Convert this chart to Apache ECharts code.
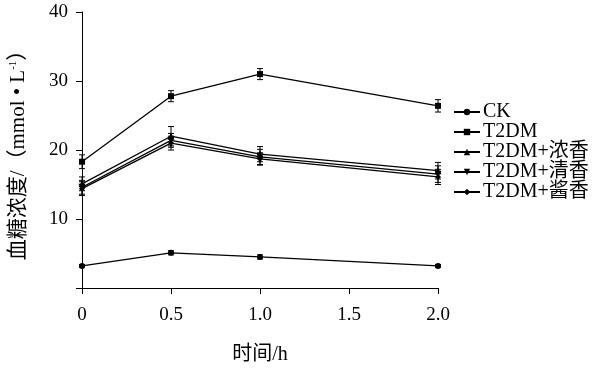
<!DOCTYPE html>
<html><head><meta charset="utf-8">
<script src="https://cdn.jsdelivr.net/npm/echarts@6/dist/echarts.min.js"></script>
<style>html,body{margin:0;padding:0;background:#fff}#c{width:601px;height:368px}</style>
</head><body><div id="c"></div>
<script>
const times = [0, 0.5, 1.0, 2.0];
const xTicks = ['0', '0.5', '1.0', '1.5', '2.0'];
const seriesNames = ['CK', 'T2DM', 'T2DM+浓香', 'T2DM+清香', 'T2DM+酱香'];
const ck = [3.2, 5.1, 4.5, 3.2];
const t2dm = [18.3, 27.8, 31.0, 26.4];
const nong = [15.1, 22.0, 19.4, 17.0];
const qing = [14.6, 21.4, 19.0, 16.5];
const jiang = [14.4, 21.0, 18.7, 16.1];
const ckErr = [0.2, 0.3, 0.3, 0.2];
const t2dmErr = [1.0, 0.8, 0.8, 0.9];
const nongErr = [1.0, 1.4, 1.1, 1.2];
const qingErr = [1.0, 1.0, 1.1, 1.2];
const jiangErr = [1.0, 1.0, 0.9, 1.1];

const values = [ck, t2dm, nong, qing, jiang];
const errs = [ckErr, t2dmErr, nongErr, qingErr, jiangErr];
const symbols = ['circle', 'rect', 'triangle', 'path://M0,0 L10,0 L5,9 Z', 'diamond'];
const sizes = [6, 6, 7, 7, 6];
const font = '"Liberation Serif", "Noto Sans CJK SC", serif';

const chart = echarts.init(document.getElementById('c'));
const series = [];
values.forEach((v, i) => {
  series.push({
    name: seriesNames[i], type: 'line',
    data: times.map((t, j) => [t, v[j]]),
    symbol: symbols[i], symbolSize: sizes[i], showSymbol: true,
    lineStyle: {color: '#000', width: 1.3},
    itemStyle: {color: '#000'},
    z: 3
  });
  series.push({
    type: 'custom', name: seriesNames[i] + '_err',
    data: times.map((t, j) => [t, v[j] - errs[i][j], v[j] + errs[i][j]]),
    renderItem: function (params, api) {
      const lo = api.coord([api.value(0), api.value(1)]);
      const hi = api.coord([api.value(0), api.value(2)]);
      const w = 3;
      const st = {stroke: '#000', lineWidth: 1};
      return {type: 'group', children: [
        {type: 'line', shape: {x1: lo[0], y1: lo[1], x2: hi[0], y2: hi[1]}, style: st},
        {type: 'line', shape: {x1: lo[0]-w, y1: lo[1], x2: lo[0]+w, y2: lo[1]}, style: st},
        {type: 'line', shape: {x1: hi[0]-w, y1: hi[1], x2: hi[0]+w, y2: hi[1]}, style: st}
      ]};
    },
    z: 2, silent: true
  });
});

chart.setOption({
  animation: false,
  backgroundColor: '#fff',
  grid: {left: 82, right: 163, top: 12, bottom: 80, containLabel: false, outerBoundsMode: 'none'},
  legend: {
    orient: 'vertical', left: 448, top: 97, itemGap: 0,
    itemWidth: 26, itemHeight: 8,
    data: seriesNames,
    textStyle: {fontFamily: font, fontSize: 20, lineHeight: 19, color: '#000', padding: [0,0,0,-2]}
  },
  xAxis: {
    type: 'value', min: 0, max: 2, interval: 0.5,
    name: '时间/h', nameLocation: 'middle', nameGap: 57,
    nameTextStyle: {fontFamily: font, fontSize: 20, color: '#000'},
    axisLine: {lineStyle: {color: '#000', width: 1}},
    axisTick: {inside: false, length: 6, lineStyle: {color: '#000'}},
    axisLabel: {fontFamily: font, fontSize: 19, color: '#000', margin: 18,
      formatter: v => xTicks[Math.round(v / 0.5)]},
    splitLine: {show: false}
  },
  yAxis: {
    type: 'value', min: 0, max: 40, interval: 10,
    name: '{a|血糖浓度/（mmol • L}{s|-1}{a|）}', nameLocation: 'middle', nameGap: 53, nameRotate: 90,
    nameTextStyle: {rich: {
      a: {fontFamily: font, fontSize: 21, color: '#000'},
      s: {fontFamily: font, fontSize: 11, color: '#000', verticalAlign: 'top', padding: [0,0,9,0]}
    }},
    axisLine: {lineStyle: {color: '#000', width: 1}},
    axisTick: {inside: false, length: 6, lineStyle: {color: '#000'}},
    axisLabel: {fontFamily: font, fontSize: 19, color: '#000', margin: 14,
      formatter: v => v === 0 ? '' : String(v)},
    splitLine: {show: false}
  },
  series: series
});
</script></body></html>
